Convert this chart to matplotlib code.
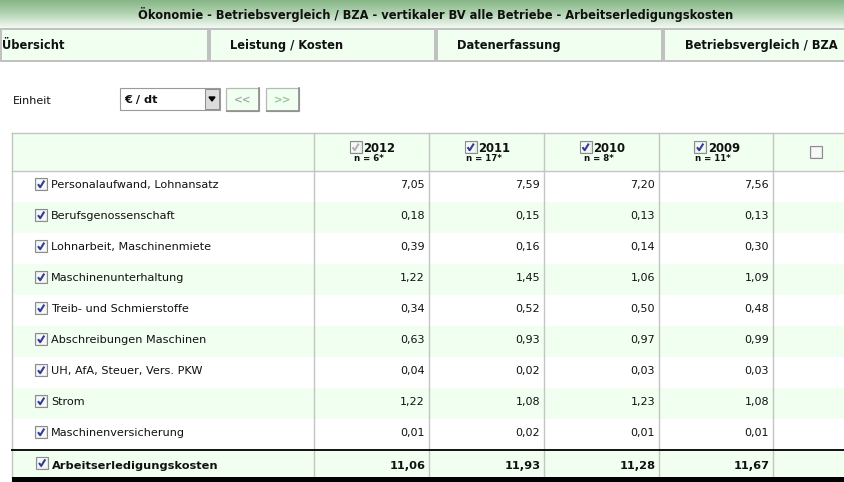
import matplotlib.pyplot as plt
import numpy as np
from matplotlib.patches import Rectangle
from matplotlib.colors import LinearSegmentedColormap

# Inhalt der Seite
title = "Ökonomie - Betriebsvergleich / BZA - vertikaler BV alle Betriebe - Arbeitserledigungskosten"
tabs = ["Übersicht", "Leistung / Kosten", "Datenerfassung", "Betriebsvergleich / BZA"]
unit_label = "Einheit"
unit = "€ / dt"

years = ["2012", "2011", "2010", "2009"]
n_counts = [6, 17, 8, 11]
items = [
    "Personalaufwand, Lohnansatz",
    "Berufsgenossenschaft",
    "Lohnarbeit, Maschinenmiete",
    "Maschinenunterhaltung",
    "Treib- und Schmierstoffe",
    "Abschreibungen Maschinen",
    "UH, AfA, Steuer, Vers. PKW",
    "Strom",
    "Maschinenversicherung",
]
v2012 = [7.05, 0.18, 0.39, 1.22, 0.34, 0.63, 0.04, 1.22, 0.01]
v2011 = [7.59, 0.15, 0.16, 1.45, 0.52, 0.93, 0.02, 1.08, 0.02]
v2010 = [7.20, 0.13, 0.14, 1.06, 0.50, 0.97, 0.03, 1.23, 0.01]
v2009 = [7.56, 0.13, 0.30, 1.09, 0.48, 0.99, 0.03, 1.08, 0.01]
total_label = "Arbeitserledigungskosten"
totals = [11.06, 11.93, 11.28, 11.67]

GREEN = "#f0fff0"
GRID = "#c4c4c4"
W, H = 844, 482


def fmt(v):
    return f"{v:.2f}".replace(".", ",")


def checkbox(ax, x, y, checked=True, disabled=False):
    ax.add_patch(Rectangle((x, y), 12, 12, fc="#ececec", ec="#8c8c8c", lw=0.8, zorder=3))
    ax.add_patch(Rectangle((x + 1.5, y + 1.5), 9, 9, fc="#f8f8f8", ec="none", zorder=3))
    if checked:
        col = "#b4b4b4" if disabled else "#2c3f94"
        ax.plot([x + 3, x + 5.2, x + 9.3], [y + 6.2, y + 9.2, y + 2.6], color=col,
                lw=1.5, solid_capstyle="butt", zorder=4)


fig = plt.figure(figsize=(W / 100, H / 100), dpi=100)
ax = fig.add_axes([0, 0, 1, 1])
ax.axis("off")

# Titelleiste mit Verlauf
cmap = LinearSegmentedColormap.from_list("bar", ["#86b686", "#b4d5b4", "#f3faf3"])
grad = np.linspace(0, 1, 64).reshape(-1, 1)
ax.imshow(grad, cmap=cmap, extent=(0, W, 28, 0), aspect="auto", origin="upper", zorder=0)
ax.text(436, 15, title, ha="center", va="center", fontsize=8.3, fontweight="bold", color="#111111")

# Reiter
tab_x = [0, 209, 436, 663]
tab_w = [208, 226, 226, 200]
tab_tx = [2, 230, 457, 685]
for x0, w, tx, label in zip(tab_x, tab_w, tab_tx, tabs):
    ax.add_patch(Rectangle((x0 + 0.5, 29), w - 1, 32, fc=GREEN, ec="#c0c0c0", lw=1.4, zorder=1))
    ax.text(tx, 45.5, label, ha="left", va="center", fontsize=8.3, fontweight="bold", color="#111111")

# Einheit-Auswahl
ax.text(13, 100.5, unit_label, ha="left", va="center", fontsize=8, color="#111111")
ax.add_patch(Rectangle((120, 88), 100, 22, fc="white", ec="#9a9a9a", lw=0.8))
ax.add_patch(Rectangle((205, 89), 14, 20, fc="#dcdcdc", ec="#8c8c8c", lw=0.7))
ax.fill([209, 215, 212], [97, 97, 101], color="black")
ax.text(124, 99.5, unit, ha="left", va="center", fontsize=8.2, fontweight="bold", color="#111111")
for bx, lab, tc in [(226, "<<", "#a8a8a8"), (266, ">>", "#98c498")]:
    ax.add_patch(Rectangle((bx, 88), 33, 23, fc=GREEN, ec="#b8b8b8", lw=0.9))
    ax.plot([bx + 1, bx + 33, bx + 33], [111, 111, 88], color="#8c8c8c", lw=1.2)
    ax.text(bx + 16.5, 100, lab, ha="center", va="center", fontsize=7.5,
            fontweight="bold", color=tc)

# Tabelle
col_x = [12, 314, 429, 544, 659, 773, W]
top, head_b = 133, 170.5
row_h = 31
n_rows = len(items)
body_b = head_b + row_h * n_rows  # Beginn Summenzeile
tab_b = 477

ax.add_patch(Rectangle((12, top), W - 12, head_b - top, fc=GREEN, ec="none", zorder=1))
for i in range(n_rows):
    if i % 2 == 1:
        ax.add_patch(Rectangle((12, head_b + i * row_h), W - 12, row_h, fc=GREEN, ec="none", zorder=1))
ax.add_patch(Rectangle((12, body_b), W - 12, tab_b - body_b, fc=GREEN, ec="none", zorder=1))

for x in col_x[:-1]:
    ax.plot([x, x], [top, H], color=GRID, lw=1.0, zorder=2)
ax.plot([12, W], [top, top], color=GRID, lw=1.0, zorder=2)
ax.plot([12, W], [head_b, head_b], color=GRID, lw=1.0, zorder=2)
ax.plot([12, W], [body_b, body_b], color="#111111", lw=1.4, zorder=2)
ax.add_patch(Rectangle((12, tab_b), W - 12, H - tab_b, fc="black", ec="none", zorder=2))

# Kopfzeile
for j, (yr, n) in enumerate(zip(years, n_counts)):
    cx = (col_x[j + 1] + col_x[j + 2]) / 2
    checkbox(ax, cx - 22, 141, checked=True, disabled=(j == 0))
    ax.text(cx - 8, 148.5, yr, ha="left", va="center", fontsize=8.4, fontweight="bold", color="#111111")
    ax.text(cx - 3, 158.5, f"n = {n}*", ha="center", va="center", fontsize=6.2,
            fontweight="bold", color="#111111")
checkbox(ax, 810, 146, checked=False)

# Datenzeilen
series = [v2012, v2011, v2010, v2009]
for i, name in enumerate(items):
    yc = head_b + (i + 0.5) * row_h
    checkbox(ax, 35, yc - 8, checked=True)
    ax.text(51, yc - 1, name, ha="left", va="center", fontsize=8.1, color="#111111")
    for j, vals in enumerate(series):
        ax.text(col_x[j + 2] - 4, yc - 1, fmt(vals[i]), ha="right", va="center",
                fontsize=8, color="#111111")

yc = (body_b + tab_b) / 2 + 2.5
checkbox(ax, 36, yc - 9, checked=True)
ax.text(52, yc, total_label, ha="left", va="center", fontsize=8.2, fontweight="bold", color="#111111")
for j, t in enumerate(totals):
    ax.text(col_x[j + 2] - 3, yc, fmt(t), ha="right", va="center",
            fontsize=8.2, fontweight="bold", color="#111111")

ax.set_xlim(0, W)
ax.set_ylim(H, 0)
fig.savefig("out.png", dpi=100)
